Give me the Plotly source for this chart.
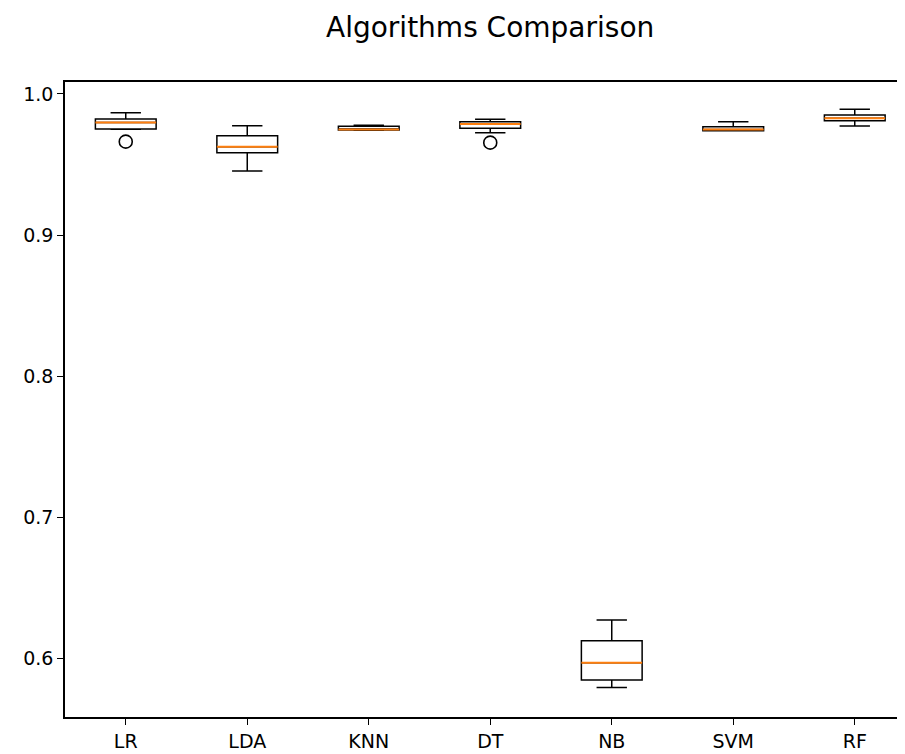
import plotly.graph_objects as go

names = ["LR", "LDA", "KNN", "DT", "NB", "SVM", "RF"]
q1 = [0.9752, 0.9584, 0.9744, 0.9757, 0.5844, 0.9740, 0.9811]
median = [0.9797, 0.9626, 0.9748, 0.9787, 0.5967, 0.9749, 0.9828]
q3 = [0.9823, 0.9704, 0.9772, 0.9804, 0.6123, 0.9768, 0.9851]
lower = [0.9750, 0.9454, 0.9742, 0.9726, 0.5792, 0.9740, 0.9773]
upper = [0.9867, 0.9775, 0.9778, 0.9820, 0.6270, 0.9804, 0.9891]
outliers = {"LR": [0.9662], "DT": [0.9655]}

positions = list(range(1, len(names) + 1))
box_w = 0.5
FONT = "DejaVu Sans"

fig = go.Figure()
for i, n in enumerate(names):
    fig.add_trace(go.Box(
        x=[positions[i]], q1=[q1[i]], median=[median[i]], q3=[q3[i]],
        lowerfence=[lower[i]], upperfence=[upper[i]],
        width=box_w, whiskerwidth=0.5, boxpoints=False,
        fillcolor="rgba(255,255,255,0)",
        line=dict(color="black", width=1.5),
        showlegend=False, hoverinfo="skip",
    ))

# orange median lines
mx, my = [], []
for i in range(len(names)):
    mx += [positions[i] - box_w / 2, positions[i] + box_w / 2, None]
    my += [median[i], median[i], None]
fig.add_trace(go.Scatter(x=mx, y=my, mode="lines",
                         line=dict(color="#ff7f0e", width=2),
                         showlegend=False, hoverinfo="skip"))

# fliers
ox, oy = [], []
for n, vals in outliers.items():
    p = positions[names.index(n)]
    for v in vals:
        ox.append(p)
        oy.append(v)
fig.add_trace(go.Scatter(x=ox, y=oy, mode="markers",
                         marker=dict(symbol="circle-open", size=13,
                                     color="black", line=dict(width=1.6)),
                         showlegend=False, hoverinfo="skip"))

# page has an 8px body margin; plot area should span x 65..905, y 82..717 on the page
fig.update_layout(
    width=897, height=746,
    margin=dict(l=57, r=0, t=74, b=37),
    paper_bgcolor="white", plot_bgcolor="white",
    font=dict(family=FONT, size=19, color="black"),
    annotations=[dict(text="Algorithms Comparison", xref="paper", yref="paper",
                      x=(490 - 65) / 840, y=1, yshift=55, showarrow=False,
                      xanchor="center", yanchor="middle",
                      font=dict(family=FONT, size=28, color="black"))],
)
fig.update_xaxes(
    range=[0.5, 0.5 + 840 / 121.5],
    tickvals=positions, ticktext=names,
    showline=True, mirror=True, linecolor="black", linewidth=1.5,
    ticks="outside", ticklen=6, tickwidth=1.3, tickcolor="black",
    showgrid=False, zeroline=False, automargin=False,
)
fig.update_yaxes(
    range=[0.5582, 1.0085],
    tickvals=[0.6, 0.7, 0.8, 0.9, 1.0], tickformat=".1f",
    showline=True, mirror=False, linecolor="black", linewidth=1.5,
    ticks="outside", ticklen=6, tickwidth=1.3, tickcolor="black",
    showgrid=False, zeroline=False, automargin=False,
)
fig.write_html("out.html")
